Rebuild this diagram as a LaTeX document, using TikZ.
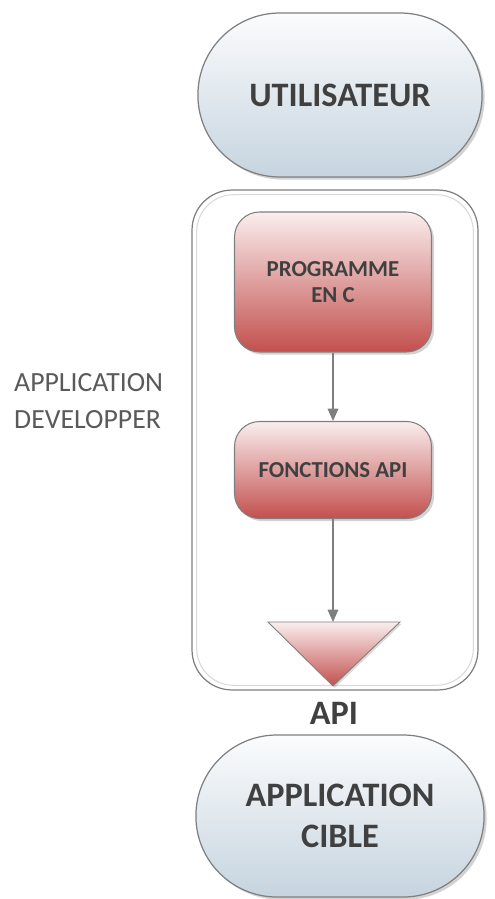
\documentclass[tikz,border=0pt]{standalone}
\usepackage{fontspec}
\setmainfont{Carlito}
\usetikzlibrary{arrows.meta,shapes.misc,shadows}
\definecolor{textcol}{HTML}{404040}
\definecolor{sidecol}{HTML}{5a5a5a}
\definecolor{pilltop}{HTML}{fbfcfd}
\definecolor{pillbot}{HTML}{c6d4df}
\definecolor{redtop}{HTML}{faeeee}
\definecolor{redbot}{HTML}{c2504e}
\definecolor{linecol}{HTML}{7f7f7f}

\tikzset{
  pill/.style={rounded rectangle, draw=linecol, line width=0.7pt,
    top color=pilltop, bottom color=pillbot, text=textcol,
    font=\fontsize{19.5}{23}\selectfont\bfseries, align=center,
    drop shadow={shadow xshift=1.5pt, shadow yshift=-1.5pt, opacity=0.35}},
  redbox/.style={rectangle, rounded corners=0.5cm, draw=linecol, line width=0.6pt,
    top color=redtop, bottom color=redbot, text=textcol,
    font=\fontsize{13}{15}\selectfont\bfseries, align=center,
    minimum width=3.94cm,
    drop shadow={shadow xshift=1.5pt, shadow yshift=-1.5pt, opacity=0.35}},
  flow/.style={draw=linecol, line width=0.9pt, -{Triangle[width=6pt,length=7pt]}}
}

\begin{document}
\begin{tikzpicture}[x=0.02cm, y=-0.02cm]
  \useasboundingbox (0,0) rectangle (494,899);

  % Top user pill
  \node[pill, minimum width=5.92cm, minimum height=3.28cm] (user) at (340,95) {UTILISATEUR};

  % Developer application frame
  \node[rectangle, rounded corners=0.8cm, draw=linecol, line width=0.7pt,
        minimum width=5.72cm, minimum height=10cm] (devbox) at (335,440) {};
  \draw[gray!30, line width=0.6pt, rounded corners=0.74cm]
    ([xshift=3pt,yshift=-3pt]devbox.north west) rectangle ([xshift=-3pt,yshift=3pt]devbox.south east);

  \node[anchor=west, align=left, text=sidecol, font=\fontsize{15.8}{21}\selectfont]
    (devlabel) at (8,401) {APPLICATION\\DEVELOPPER};

  % Inner boxes
  \node[redbox, minimum height=2.8cm] (prog) at (333,282) {PROGRAMME\\EN C};
  \node[redbox, minimum height=1.94cm] (fonc) at (333,470) {FONCTIONS API};

  % API triangle
  \coordinate (apitop) at (333,622);
  \shade[top color=redtop, bottom color=redbot, draw=linecol, line width=0.5pt,
         drop shadow={shadow xshift=1pt, shadow yshift=-1pt, opacity=0.3}]
    (268,622) -- (400,622) -- (333,686) -- cycle;
  \node[text=textcol, font=\fontsize{19.5}{20}\selectfont\bfseries] (apilabel) at (334,713) {API};

  % Arrows
  \draw[flow] (prog) -- (fonc);
  \draw[flow] (fonc) -- (apitop);

  % Target application pill
  \node[pill, minimum width=6cm, minimum height=3.24cm] (cible) at (340,816) {APPLICATION\\CIBLE};
\end{tikzpicture}
\end{document}
